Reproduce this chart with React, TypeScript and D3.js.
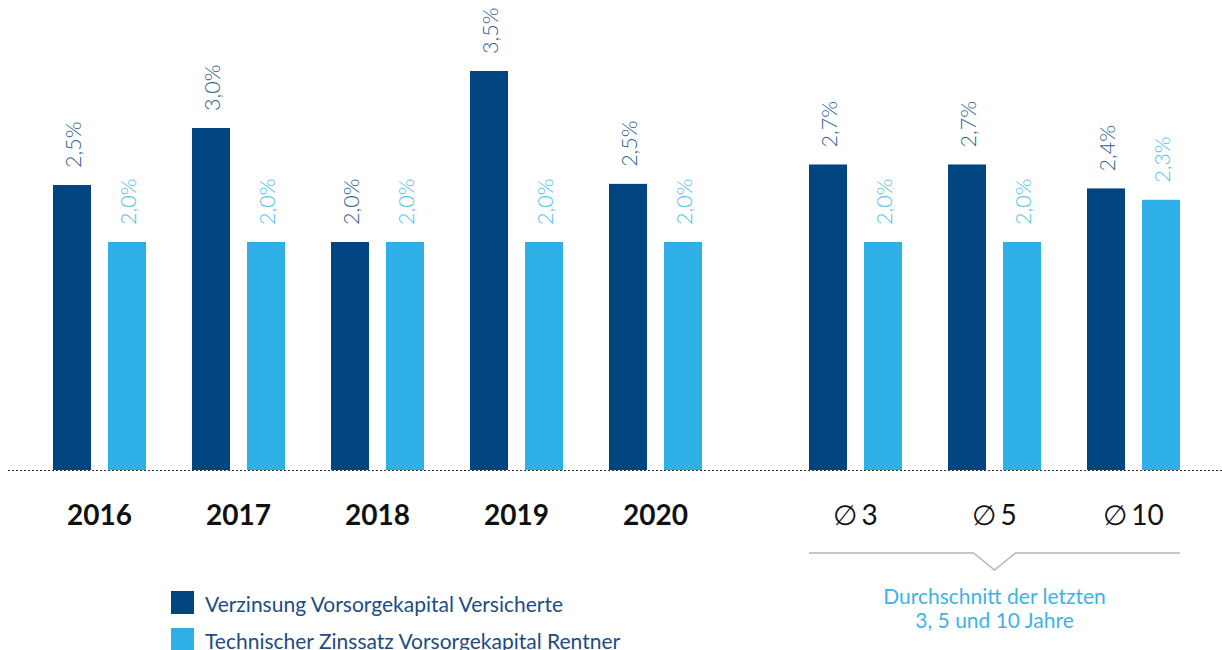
import React from "react";
import * as d3 from "d3";

const yearCategories = ["2016", "2017", "2018", "2019", "2020"];
const avgCategories = ["∅3", "∅5", "∅10"];
const seriesNames = ["Verzinsung Vorsorgekapital Versicherte", "Technischer Zinssatz Vorsorgekapital Rentner"];
const versicherteValues = [2.5, 3.0, 2.0, 3.5, 2.51, 2.68, 2.68, 2.47];
const rentnerValues = [2.0, 2.0, 2.0, 2.0, 2.0, 2.0, 2.0, 2.37];
const versicherteLabels = ["2,5%", "3,0%", "2,0%", "3,5%", "2,5%", "2,7%", "2,7%", "2,4%"];
const rentnerLabels = ["2,0%", "2,0%", "2,0%", "2,0%", "2,0%", "2,0%", "2,0%", "2,3%"];
const avgNote = ["Durchschnitt der letzten", "3, 5 und 10 Jahre"];

const DARK = "#00457f";
const LIGHT = "#2eb0e6";
const DARK_TXT = "#2f5f92";
const LIGHT_TXT = "#55bfee";
const FONT = "Lato, 'Open Sans', sans-serif";

export default function App() {
  const W = 1222, H = 650;
  const baseY = 470;
  const y = d3.scaleLinear().domain([0, 1]).range([baseY, baseY - 114]);
  const x0a = d3.scaleBand().domain(yearCategories).range([30, 725]).paddingInner(0).paddingOuter(0);
  const x0b = d3.scaleBand().domain(avgCategories).range([786, 1203]).paddingInner(0).paddingOuter(0);
  const x1 = d3.scaleBand().domain(["v", "r"]).range([0, x0a.bandwidth()]).paddingInner(0.309).paddingOuter(0.418);

  const cats = [...yearCategories, ...avgCategories];
  const groupX = (c: string) => (yearCategories.includes(c) ? x0a(c)! : x0b(c)!);

  const bars: JSX.Element[] = [];
  cats.forEach((c, i) => {
    const gx = groupX(c);
    const series = [
      { key: "v", val: versicherteValues[i], lab: versicherteLabels[i], col: DARK, tcol: DARK_TXT },
      { key: "r", val: rentnerValues[i], lab: rentnerLabels[i], col: LIGHT, tcol: LIGHT_TXT },
    ];
    series.forEach((s) => {
      const bx = gx + x1(s.key)!;
      const by = y(s.val);
      const cx = bx + x1.bandwidth() / 2;
      const ty = by - 17;
      bars.push(
        <g key={c + s.key}>
          <rect x={bx} y={by} width={x1.bandwidth()} height={baseY - by} fill={s.col} />
          <text
            transform={`translate(${cx + 1},${ty}) rotate(-90)`}
            fontFamily={FONT}
            fontWeight={300}
            fontSize={21.5}
            fill={s.tcol}
            dominantBaseline="central"
            textAnchor="start"
          >
            {s.lab}
          </text>
        </g>
      );
    });
  });

  const bracketL = x0b(avgCategories[0])! + x1("v")!;
  const bracketR = x0b(avgCategories[2])! + x1("r")! + x1.bandwidth();
  const mid = x0b(avgCategories[1])! + x0b.bandwidth() / 2;
  const bY = 553;

  return (
    <svg width={W} height={H} style={{ position: "absolute", left: 0, top: 0 }}>
      <rect width={W} height={H} fill="#fff" />
      {bars}
      <line x1={8} x2={W} y1={baseY + 0.5} y2={baseY + 0.5} stroke="#333" strokeWidth={1} strokeDasharray="2,2" />
      {yearCategories.map((c) => (
        <text key={c} x={x0a(c)! + x0a.bandwidth() / 2} y={514} textAnchor="middle" dominantBaseline="central"
          fontFamily={FONT} fontWeight={700} fontSize={28} fill="#111">{c}</text>
      ))}
      {avgCategories.map((c) => (
        <text key={c} x={x0b(c)! + x0b.bandwidth() / 2} y={514} textAnchor="middle" dominantBaseline="central"
          fontFamily={FONT} fontWeight={400} fontSize={28} fill="#111">
          <tspan fontWeight={300}>∅</tspan><tspan dx={4}>{c.slice(1)}</tspan>
        </text>
      ))}
      <path
        d={`M${bracketL},${bY} L${mid - 21},${bY} L${mid},${bY + 17} L${mid + 21},${bY} L${bracketR},${bY}`}
        fill="none" stroke="#b5b5b5" strokeWidth={1.5}
      />
      {avgNote.map((t, i) => (
        <text key={t} x={mid} y={595 + i * 24} textAnchor="middle" dominantBaseline="central"
          fontFamily={FONT} fontWeight={400} fontSize={21} fill="#3db3e8">{t}</text>
      ))}
      {seriesNames.map((n, i) => (
        <g key={n}>
          <rect x={171} y={591 + i * 37} width={23} height={23} fill={i === 0 ? DARK : LIGHT} />
          <text x={205} y={603 + i * 37} dominantBaseline="central" fontFamily={FONT} fontWeight={400}
            fontSize={21} fill="#1d4d82">{n}</text>
        </g>
      ))}
    </svg>
  );
}
